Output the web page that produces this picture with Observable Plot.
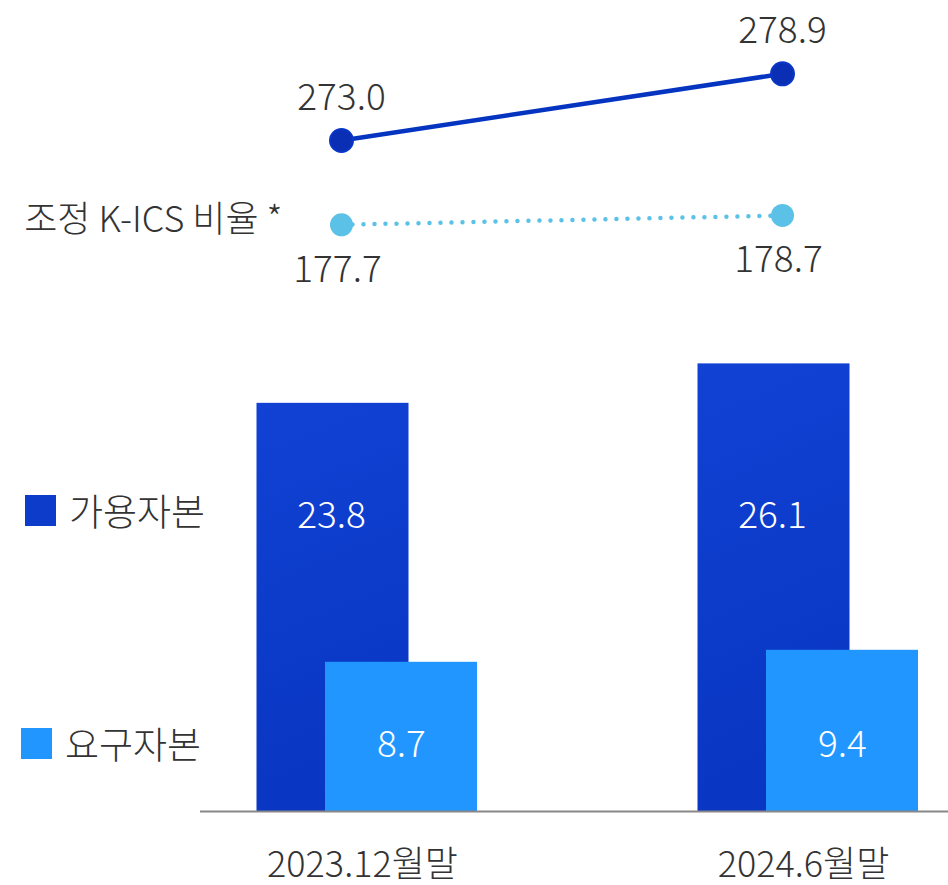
<!DOCTYPE html>
<html>
<head>
<meta charset="utf-8">
<script src="https://cdn.jsdelivr.net/npm/d3@7"></script>
<script src="https://cdn.jsdelivr.net/npm/@observablehq/plot@0.6"></script>
<style>
  html, body { margin: 0; padding: 0; background: #fff; }
  #wrap { position: relative; width: 948px; height: 885px; overflow: hidden; font-family: "Noto Sans CJK KR", "Noto Sans", sans-serif; font-weight: 300; }
  .leg { position: absolute; left: 0; display: flex; align-items: center; font-size: 37px; color: #333; line-height: 1; }
  .leg .sw { width: 31px; height: 31px; margin-right: 13px; }
</style>
</head>
<body>
<div id="wrap"></div>
<script>
// ---- data ----
const periods = ["2023.12월말", "2024.6월말"];
const availableCapital = [23.8, 26.1];   // 가용자본
const requiredCapital = [8.7, 9.4];      // 요구자본
const kicsRatio = [273.0, 278.9];        // K-ICS 비율 (solid)
const adjKicsRatio = [177.7, 178.7];     // 조정 K-ICS 비율 (dotted)
const seriesNames = ["가용자본", "요구자본"];
const ratioLabel = "조정 K-ICS 비율 *";

const colors = { avail: "#0d3cca", req: "#2196ff", line: "#0534c0", dot: "#0a2eb4", adj: "#5cc1e6", text: "#333333" };

const avail = periods.map((p, i) => ({ period: p, value: availableCapital[i] }));
const req = periods.map((p, i) => ({ period: p, value: requiredCapital[i] }));
const kics = periods.map((p, i) => ({ period: p, value: kicsRatio[i] }));
const adj = periods.map((p, i) => ({ period: p, value: adjKicsRatio[i] }));

const font = "'Noto Sans CJK KR', 'Noto Sans', sans-serif";
const W = 300;

const defs = () => {
  const d = d3.create("svg:defs");
  const g = d.append("linearGradient").attr("id", "gradAvail").attr("x1", 0).attr("y1", 0).attr("x2", 0.15).attr("y2", 1);
  g.append("stop").attr("offset", "0%").attr("stop-color", "#1142d4");
  g.append("stop").attr("offset", "100%").attr("stop-color", "#0936c2");
  return d.node();
};

const chart = Plot.plot({
  width: 948,
  height: 885,
  marginLeft: 200,
  marginRight: 0,
  marginTop: 0,
  marginBottom: 0,
  style: { fontFamily: font, fontWeight: W, background: "transparent", overflow: "visible" },
  x: { type: "band", domain: periods, range: [64.5, 1100.5], paddingInner: 0.6561, paddingOuter: 0.5, axis: null },
  // broken (piecewise) value scale: capital bars, adjusted ratio band, ratio band
  y: { type: "linear", domain: [0, 30, 176, 180, 270, 290], range: [811, 296.5, 240.1, 202.9, 173.9, -52.1], axis: null },
  marks: [
    defs,
    Plot.barY(avail, { x: "period", y: "value", fill: "url(#gradAvail)", dx: -29.5 }),
    Plot.barY(req, { x: "period", y: "value", fill: colors.req, dx: 39 }),
    Plot.ruleY([0], { stroke: "#888888", strokeWidth: 2 }),
    // bar value labels
    Plot.text(avail, { x: "period", y: () => 0, text: d => d.value.toFixed(1), dx: -31, dy: -284, lineAnchor: "bottom", fill: "white", fontSize: 37, fontWeight: W }),
    Plot.text(req, { x: "period", y: () => 0, text: d => d.value.toFixed(1), dx: 39, dy: -55, lineAnchor: "bottom", fill: "white", fontSize: 37, fontWeight: W }),
    // period labels
    Plot.text(periods, { x: d => d, y: () => 0, text: d => d, dy: 65, lineAnchor: "bottom", fill: colors.text, fontSize: 36, fontWeight: W }),
    // solid ratio line
    Plot.line(kics, { x: "period", y: "value", stroke: colors.line, strokeWidth: 4.5, dx: -21 }),
    Plot.dot(kics, { x: "period", y: "value", r: 11.5, fill: colors.dot, stroke: "#0a36c8", strokeWidth: 2, dx: -21 }),
    Plot.text(kics, { x: "period", y: "value", text: d => d.value.toFixed(1), dx: -21, dy: -31, lineAnchor: "bottom", fill: colors.text, fontSize: 37, fontWeight: W }),
    // dotted adjusted ratio line
    Plot.line(adj, { x: "period", y: "value", stroke: colors.adj, strokeWidth: 4.5, strokeDasharray: "0 11", strokeLinecap: "round", dx: -21 }),
    Plot.dot(adj, { x: "period", y: "value", r: 11.5, fill: colors.adj, dx: -21 }),
    Plot.text(adj, { x: "period", y: "value", text: d => d.value.toFixed(1), dx: -25, dy: 57, lineAnchor: "bottom", fill: colors.text, fontSize: 37, fontWeight: W }),
    Plot.text(adj.slice(0, 1), { x: "period", y: "value", text: () => ratioLabel, textAnchor: "end", dx: -80, dy: 7, lineAnchor: "bottom", fill: colors.text, fontSize: 36, fontWeight: W })
  ]
});

const wrap = document.getElementById("wrap");
wrap.appendChild(chart);

// legend (left side)
const legendItems = [
  { name: seriesNames[0], color: colors.avail, top: 492, left: 25 },
  { name: seriesNames[1], color: colors.req, top: 725, left: 21 }
];
for (const it of legendItems) {
  const el = document.createElement("div");
  el.className = "leg";
  el.style.top = it.top + "px";
  el.style.left = it.left + "px";
  el.innerHTML = `<span class="sw" style="background:${it.color}"></span><span>${it.name}</span>`;
  wrap.appendChild(el);
}
</script>
</body>
</html>
